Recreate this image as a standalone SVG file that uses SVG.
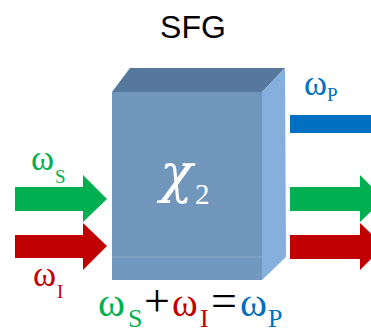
<svg xmlns="http://www.w3.org/2000/svg" width="371" height="333" viewBox="0 0 371 333">
<style>
text.s{font-family:"Liberation Serif","Times New Roman",serif}
.w{font-family:"DejaVu Serif",serif}
.g{fill:#00b050}.r{fill:#c00000}.b{fill:#0070c0}
</style>
<rect width="371" height="333" fill="#fff"/>
<text x="193" y="38" font-family="Liberation Sans,Arial,sans-serif" font-size="32" text-anchor="middle" fill="#000">SFG</text>
<g id="crystal">
<polygon points="112,92 130,68 285,68 262,92" fill="#56789c"/>
<polygon points="262,92 285,68 286,257 262,280" fill="#85b0dd"/>
<rect x="112" y="92" width="150" height="188" fill="#7096bc"/>
<rect x="112" y="257" width="150" height="23" fill="#7398bf"/>
<line x1="112" y1="257" x2="262" y2="257" stroke="#8aa9c9" stroke-width="1"/>
<text class="s" fill="#fff"><tspan class="w" x="160" y="192" font-size="54" font-style="italic">χ</tspan><tspan x="195" y="204" font-size="29">2</tspan></text>
</g>
<g id="connectors">
<polygon class="g" points="15,187 83,187 83,175 107,199 83,222 83,211 15,211"/>
<polygon class="r" points="15,235 83,235 83,223 107,246 83,270 83,258 15,258"/>
<rect class="b" x="290" y="115" width="81" height="18"/>
<polygon class="g" points="290,187 360,187 360,175 384,199 360,222 360,211 290,211"/>
<polygon class="r" points="290,235 360,235 360,223 384,246 360,270 360,259 290,259"/>
</g>
<g id="labels">
<text class="s g"><tspan x="31" y="170" font-size="35">ω</tspan><tspan x="55" y="183" font-size="19">S</tspan></text>
<text class="s r"><tspan x="33" y="286" font-size="35">ω</tspan><tspan x="57" y="298" font-size="19">I</tspan></text>
<text class="s b"><tspan x="304" y="95" font-size="35">ω</tspan><tspan x="327" y="101" font-size="19">P</tspan></text>
<text class="s"><tspan class="g" x="98" y="316" font-size="41">ω</tspan><tspan class="g" x="128" y="327" font-size="26">S</tspan><tspan x="144" y="316" font-size="46">+</tspan><tspan class="r" x="172" y="316" font-size="39">ω</tspan><tspan class="r" x="200" y="327" font-size="26">I</tspan><tspan x="211" y="316" font-size="46">=</tspan><tspan class="b" x="240" y="316" font-size="41">ω</tspan><tspan class="b" x="268" y="327" font-size="26">P</tspan></text>
</g>
</svg>
